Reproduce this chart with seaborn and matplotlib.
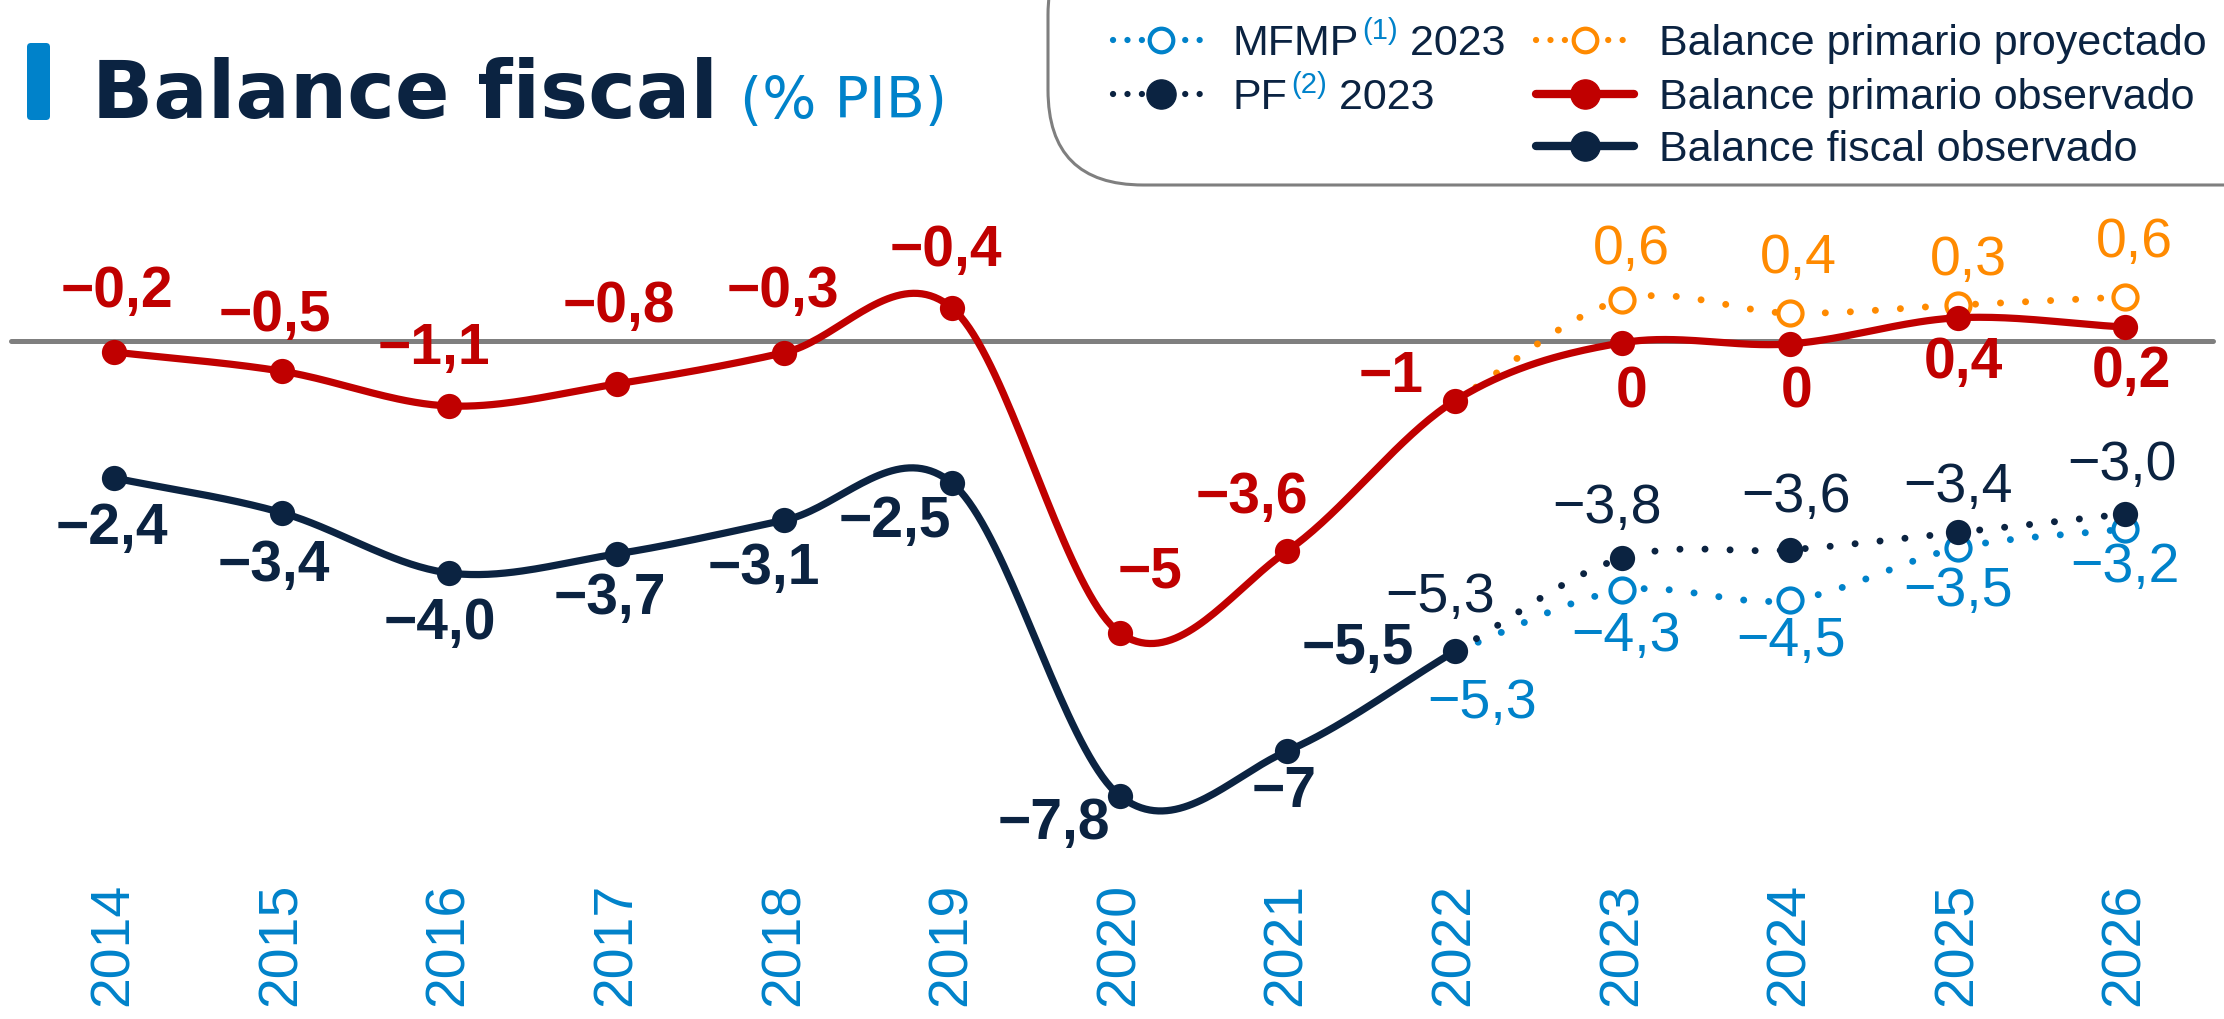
import numpy as np
import pandas as pd
import matplotlib
matplotlib.use("Agg")
import matplotlib.pyplot as plt  # noqa: E402
import seaborn as sns  # noqa: E402
from matplotlib.patches import FancyBboxPatch  # noqa: E402

# ---- datos ----
years = list(range(2014, 2027))
prim_obs = [-0.19, -0.52, -1.12, -0.74, -0.20, 0.57, -5.03, -3.62, -1.03, -0.03, -0.05, 0.40, 0.24]
prim_obs_lbl = ["−0,2", "−0,5", "−1,1", "−0,8", "−0,3", "−0,4", "−5", "−3,6", "−1", "0", "0", "0,4", "0,2"]

fis_years = years[:9]
fis_obs = [-2.36, -2.96, -4.00, -3.67, -3.09, -2.45, -7.84, -7.07, -5.35]
fis_obs_lbl = ["−2,4", "−3,4", "−4,0", "−3,7", "−3,1", "−2,5", "−7,8", "−7", "−5,5"]

proj_years = years[8:]
pf = [-5.35, -3.74, -3.60, -3.30, -2.98]
pf_lbl = ["−5,3", "−3,8", "−3,6", "−3,4", "−3,0"]
mfmp = [-5.35, -4.30, -4.47, -3.57, -3.24]
mfmp_lbl = ["−5,3", "−4,3", "−4,5", "−3,5", "−3,2"]
prim_proj = [-1.03, 0.71, 0.48, 0.62, 0.76]
prim_proj_lbl = ["", "0,6", "0,4", "0,3", "0,6"]

# desplazamiento de etiquetas (pixeles, y hacia arriba)
prim_obs_off = [(3, 60), (-7, 55), (-15, 57), (2, 77), (-2, 61), (-6, 57), (30, 60),
                (-35, 53), (-64, 24), (9, -50), (7, -49), (6, -45), (6, -45)]
fis_obs_off = [(-2, -51), (-8, -53), (-9, -51), (-7, -45), (-21, -49), (-57, -39),
               (-66, -28), (-3, -41), (-97, 2)]
pf_off = [(-15, 53), (-15, 49), (6, 52), (0, 44), (-3, 48)]
mfmp_off = [(27, -53), (4, -47), (1, -42), (0, -44), (0, -39)]
prim_proj_off = [(0, 0), (9, 50), (8, 54), (11, 44), (9, 54)]

NAVY = "#0B2341"
RED = "#C00000"
BLUE = "#0082CA"
ORANGE = "#FF8A00"
GRAY = "#7F7F7F"
DOT = (0, (0.01, 3.6))

sns.set_theme(style="white")
plt.rcParams["font.family"] = ["Liberation Sans", "DejaVu Sans"]


def smooth(xs, ys, n=40):
    # curva suavizada tipo Excel (Catmull-Rom)
    xs = np.asarray(xs, float)
    ys = np.asarray(ys, float)
    m = np.empty_like(ys)
    m[1:-1] = (ys[2:] - ys[:-2]) / 2
    m[0] = ys[1] - ys[0]
    m[-1] = ys[-1] - ys[-2]
    px, py = [], []
    for i in range(len(xs) - 1):
        t = np.linspace(0, 1, n)
        h00 = 2 * t**3 - 3 * t**2 + 1
        h10 = t**3 - 2 * t**2 + t
        h01 = -2 * t**3 + 3 * t**2
        h11 = t**3 - t**2
        px.append(xs[i] + t * (xs[i + 1] - xs[i]))
        py.append(h00 * ys[i] + h10 * m[i] + h01 * ys[i + 1] + h11 * m[i + 1])
    return pd.DataFrame({"x": np.concatenate(px), "y": np.concatenate(py)})


fig = plt.figure(figsize=(22.24, 10.19), dpi=100)
ax = fig.add_axes([0, 0.14622, 1, 0.67713])
ax.set_xlim(2013.3198, 2026.5895)
ax.set_ylim(-9.121, 2.776)

ax.axhline(0, xmin=0.005, xmax=0.995, color=GRAY, lw=3.6, zorder=1)

# lineas punteadas (proyecciones)
for ys, xs, col, z in [(prim_proj, proj_years, ORANGE, 2), (mfmp, proj_years, BLUE, 2),
                       (pf, proj_years, NAVY, 2.5)]:
    sns.lineplot(data=smooth(xs, ys), x="x", y="y", ax=ax, color=col, lw=5,
                 linestyle=DOT, dash_capstyle="round", sort=False, estimator=None, zorder=z)

# lineas observadas
sns.lineplot(data=smooth(years, prim_obs), x="x", y="y", ax=ax, color=RED, lw=5.2,
             sort=False, estimator=None, zorder=3)
sns.lineplot(data=smooth(fis_years, fis_obs), x="x", y="y", ax=ax, color=NAVY, lw=5.2,
             sort=False, estimator=None, zorder=3)

# marcadores
sns.scatterplot(x=proj_years[1:], y=prim_proj[1:], ax=ax, s=300, color="white",
                edgecolor=ORANGE, linewidth=3, zorder=4)
sns.scatterplot(x=proj_years[1:], y=mfmp[1:], ax=ax, s=300, color="white",
                edgecolor=BLUE, linewidth=3, zorder=4)
sns.scatterplot(x=proj_years[1:], y=pf[1:], ax=ax, s=330, color=NAVY, linewidth=0, zorder=4.5)
sns.scatterplot(x=years, y=prim_obs, ax=ax, s=330, color=RED, linewidth=0, zorder=5)
sns.scatterplot(x=fis_years, y=fis_obs, ax=ax, s=330, color=NAVY, linewidth=0, zorder=5)


def labels(xs, ys, texts, offs, color, weight):
    for x, y, t, o in zip(xs, ys, texts, offs):
        if t:
            ax.annotate(t, (x, y), xytext=o, textcoords="offset pixels", ha="center",
                        va="center", fontsize=41 if weight == "bold" else 40,
                        fontweight=weight, color=color, zorder=7)


labels(years, prim_obs, prim_obs_lbl, prim_obs_off, RED, "bold")
labels(fis_years, fis_obs, fis_obs_lbl, fis_obs_off, NAVY, "bold")
labels(proj_years, pf, pf_lbl, pf_off, NAVY, "normal")
labels(proj_years, mfmp, mfmp_lbl, mfmp_off, BLUE, "normal")
labels(proj_years, prim_proj, prim_proj_lbl, prim_proj_off, ORANGE, "normal")

ax.set_xticks(years)
ax.set_xticklabels([str(y) for y in years], rotation=90, color=BLUE, fontsize=40)
ax.tick_params(axis="x", length=0, pad=9)
ax.set_yticks([])
ax.set_xlabel("")
ax.set_ylabel("")
sns.despine(ax=ax, left=True, bottom=True)

# ---- capa superior en pixeles: titulo y leyenda ----
ov = fig.add_axes([0, 0, 1, 1], zorder=5)
ov.set_xlim(0, 2224)
ov.set_ylim(1019, 0)
ov.axis("off")
ov.patch.set_alpha(0)
renderer = fig.canvas.get_renderer()

ov.add_patch(FancyBboxPatch((27, 43), 23, 77, boxstyle="round,pad=0,rounding_size=4",
                            fc=BLUE, ec="none"))
t = ov.text(92, 118, "Balance fiscal", fontsize=58, fontweight="bold", color=NAVY,
            family=["DejaVu Sans"], va="baseline")
bb = t.get_window_extent(renderer)
ov.text(92 + bb.width + 22, 118, "(% PIB)", fontsize=41, color=BLUE,
        family=["DejaVu Sans"], va="baseline")

ov.add_patch(FancyBboxPatch((1048, -80), 1400, 265, boxstyle="round,pad=0,rounding_size=95",
                            fc="white", ec=GRAY, lw=2.2))


def seq(x, y, pieces):
    for txt, size, col, rise in pieces:
        tt = ov.text(x, y - rise, txt, fontsize=size, color=col, va="baseline")
        x += tt.get_window_extent(renderer).width


rows = [40, 94, 146]
LEG_DOT = (0, (0.01, 2.3))
# columna 1
ov.plot([1113, 1210], [rows[0]] * 2, color=BLUE, lw=4.5, ls=LEG_DOT, dash_capstyle="round")
ov.plot([1161], [rows[0]], "o", ms=17, mfc="white", mec=BLUE, mew=3)
ov.plot([1113, 1210], [rows[1]] * 2, color=NAVY, lw=4.5, ls=LEG_DOT, dash_capstyle="round")
ov.plot([1161], [rows[1]], "o", ms=21, color=NAVY)
seq(1233, rows[0] + 15, [("MFMP", 31, NAVY, 0), (" ", 8, NAVY, 0), ("(1)", 21, BLUE, 16),
                         (" 2023", 31, NAVY, 0)])
seq(1233, rows[1] + 15, [("PF", 31, NAVY, 0), (" ", 8, NAVY, 0), ("(2)", 21, BLUE, 16),
                         (" 2023", 31, NAVY, 0)])
# columna 2
ov.plot([1536, 1634], [rows[0]] * 2, color=ORANGE, lw=4.5, ls=LEG_DOT, dash_capstyle="round")
ov.plot([1585], [rows[0]], "o", ms=17, mfc="white", mec=ORANGE, mew=3)
ov.plot([1536, 1634], [rows[1]] * 2, color=RED, lw=6, solid_capstyle="round")
ov.plot([1585], [rows[1]], "o", ms=21, color=RED)
ov.plot([1536, 1634], [rows[2]] * 2, color=NAVY, lw=6, solid_capstyle="round")
ov.plot([1585], [rows[2]], "o", ms=21, color=NAVY)
for r, txt in zip(rows, ["Balance primario proyectado", "Balance primario observado",
                         "Balance fiscal observado"]):
    ov.text(1659, r + 15, txt, fontsize=31, color=NAVY, va="baseline")

fig.savefig("out.png", dpi=100)
